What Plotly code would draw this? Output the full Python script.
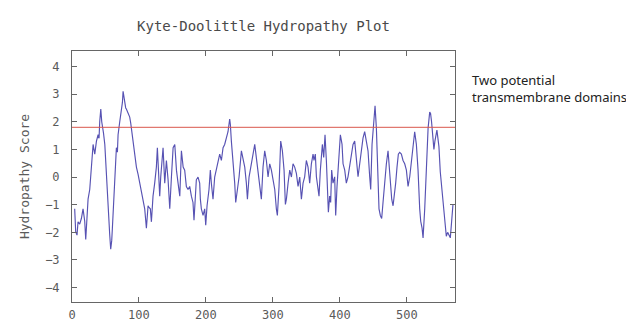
import plotly.graph_objects as go

# Residue positions and Kyte-Doolittle scores
residues = [4, 5.5, 7.5, 9, 11.5, 14, 16.5, 19, 20.5, 22.5, 24, 26.5, 29, 31.5, 34, 36.5, 39, 40.4, 41.4, 43,
            44.4, 45.4, 47, 49, 51.3, 53.8, 56.3, 57.8, 59.3, 60.3, 62.3, 63.8, 66.3, 67.8, 68.8, 71.3, 73.8, 75.3, 76.3, 77.8,
            78.7, 80.2, 81.2, 83.7, 86.2, 87.7, 88.7, 91.2, 93.7, 96.2, 98.7, 101.1, 103.6, 106.1, 108.6, 111.1, 112.6, 113.6, 115, 117,
            118.6, 120, 121, 123.5, 126, 127.5, 129.5, 131, 132.5, 134.5, 136, 138.5, 141, 143.5, 146, 148.5, 151, 153.5, 156, 158.4,
            161, 163.4, 166, 168.3, 170.8, 173.3, 175.8, 178.3, 180.7, 182.2, 184.2, 185.7, 188.2, 190.7, 191.7, 193.2, 195.7, 198.2, 199.7, 201.7,
            204.6, 206.6, 208.1, 210.6, 213.1, 215.6, 218.1, 220.6, 223.1, 225.6, 228, 230.5, 233, 235.5, 236.5, 238, 240.5, 243, 244.5, 246.5,
            249.5, 253, 255.5, 258, 260.4, 262, 264.4, 268, 270.4, 272.9, 275.4, 277.9, 280.4, 282.8, 285.3, 287.8, 290.3, 292.8, 295.3, 297.8,
            300.3, 302.8, 305.2, 306.7, 309.2, 311.7, 314.2, 316.7, 318.7, 320.2, 322.7, 325.2, 327.7, 330.1, 332.6, 335.1, 337.6, 340.1, 342.6, 345.1,
            347.5, 350, 352.5, 355, 357.5, 360, 361.4, 363.4, 365, 367.4, 368.9, 370.9, 372.4, 373.9, 375.9, 377.9, 379.9, 381.4, 382.9, 384.8,
            386.3, 387.8, 389.8, 392.3, 393.8, 395.8, 398.3, 400.8, 403.3, 404.8, 407.3, 409.7, 412.2, 414.7, 417.2, 419.7, 422.2, 423.7, 425.7, 427.2,
            429.7, 432.2, 434.6, 437.1, 439.6, 442.1, 444.6, 446.1, 448.1, 450.6, 452.6, 454.6, 456.5, 458.5, 460.5, 462.5, 464.5, 467, 469.5, 472,
            473.5, 475.5, 477.5, 479.5, 481.5, 483.4, 485.4, 487.4, 489.4, 491.9, 494.4, 496.9, 499.4, 501.9, 504.4, 506.9, 509.3, 511.8, 514.3, 516.8,
            519.3, 520.8, 522.8, 524.3, 526.8, 529.3, 531.8, 534.2, 535.5, 537, 538.5, 540.5, 542, 543.5, 545, 546.5, 548, 550, 552.5, 555,
            557, 559, 561, 563, 565, 567, 569]
scores = [-1.15, -1.97, -2.1, -1.62, -1.7, -1.5, -1.15, -1.6, -2.26, -1.5, -0.8, -0.45, 0.6, 1.18, 0.83, 1.3, 1.53, 1.4, 2.0, 2.46,
          2.0, 1.76, 1.6, 1.18, 0.01, -1.15, -2.08, -2.61, -2.3, -1.85, -1.0, 0.0, 1.06, 0.9, 1.53, 2.0, 2.35, 2.7, 3.1, 2.8,
          2.69, 2.5, 2.46, 2.3, 2.17, 1.95, 1.76, 1.3, 0.83, 0.36, 0.1, -0.22, -0.6, -0.92, -1.15, -1.85, -1.3, -1.04, -1.1, -1.15,
          -1.62, -1.0, -0.69, -0.22, 0.36, 1.06, 0.13, -0.69, 0.0, 0.83, 1.06, -0.22, 0.6, -0.1, -1.15, 0.0, 1.06, 1.18, 0.25, -0.22,
          -0.69, 0.95, 0.36, 0.25, -0.34, -0.45, -0.34, -0.69, -0.92, -1.56, -0.45, -0.1, 0.0, -0.22, -0.8, -1.15, -1.39, -1.15, -1.74, -1.04,
          -0.45, 0.25, -0.22, -0.8, 0.0, 0.25, 0.6, 0.83, 0.6, 1.06, 1.18, 1.41, 1.64, 2.1, 1.9, 1.3, 0.6, -0.22, -0.92, -0.57,
          0.0, 0.95, 0.6, 0.36, -0.22, -0.8, 0.0, 0.6, 0.83, 1.18, 0.71, 0.25, -0.34, -0.8, 0.36, 0.95, 0.6, 0.0, 0.48, 0.25,
          -0.1, -0.45, -1.15, -1.39, -0.34, 1.3, 0.95, 0.25, -0.99, -0.8, -0.22, 0.25, 0.0, 0.48, 0.36, 0.13, -0.34, 0.0, -0.8, -0.22,
          0.01, 0.6, 0.36, -0.22, 0.48, 0.83, 0.6, 0.83, 0.01, -0.57, -0.69, 0.25, 0.71, 1.18, 0.71, 1.53, 0.6, -0.22, -1.27, -0.69,
          -0.92, 0.25, -0.22, 0.01, -1.39, -0.34, 0.6, 1.53, 1.18, 0.48, 0.25, -0.22, 0.01, 0.36, 0.83, 1.18, 1.3, 0.83, 0.25, 0.01,
          0.48, 1.06, 1.41, 1.64, 1.3, 0.95, 0.01, -0.45, 1.18, 2.0, 2.58, 1.76, 0.25, -1.15, -1.39, -1.5, -0.92, -0.1, 0.48, 0.95,
          0.48, -0.22, -0.8, -1.04, -0.69, -0.22, 0.36, 0.83, 0.89, 0.83, 0.6, 0.48, 0.25, -0.34, 0.01, 0.6, 1.18, 1.64, 1.18, 0.25,
          -1.15, -1.6, -1.85, -2.2, -1.15, 0.25, 1.76, 2.35, 2.3, 2.0, 1.5, 1.0, 1.3, 1.55, 1.7, 1.4, 1.1, 0.19, -0.51, -1.1,
          -1.79, -2.14, -2.0, -2.1, -2.2, -1.6, -0.98]

threshold = 1.8
x_ticks = [0, 100, 200, 300, 400, 500]
y_ticks = [-4, -3, -2, -1, 0, 1, 2, 3, 4]
title_text = "Kyte-Doolittle Hydropathy Plot"
y_title = "Hydropathy Score"
note_text = "Two potential<br>transmembrane domains"

mono = "DejaVu Sans Mono"
gray = "#5a5a5a"

fig = go.Figure()
fig.add_trace(go.Scatter(x=residues, y=scores, mode="lines",
                         line=dict(color="#5752b3", width=1.15), showlegend=False))
fig.add_hline(y=threshold, line=dict(color="#d9574c", width=1))

fig.update_layout(
    width=634, height=326,
    margin=dict(l=64, r=187, t=43, b=23),
    paper_bgcolor="white", plot_bgcolor="white",
    title=dict(text=title_text, x=(64 + 447) / 2 / 634, xanchor="center", y=1 - 18 / 326, yanchor="middle",
               font=dict(family=mono, size=14, color="#4a4a4a")),
    xaxis=dict(range=[0, 572], tickvals=x_ticks, ticks="inside", ticklen=5, tickcolor="#666",
               showline=True, linecolor="#666", linewidth=1, mirror="ticks", showgrid=False, zeroline=False,
               ticklabelstandoff=2,
               tickfont=dict(family=mono, size=12, color=gray)),
    yaxis=dict(range=[-4.52, 4.56], tickvals=y_ticks, ticks="inside", ticklen=5, tickcolor="#666",
               showline=True, linecolor="#666", linewidth=1, mirror="ticks", showgrid=False, zeroline=False,
               ticklabelstandoff=9,
               tickfont=dict(family=mono, size=12, color=gray),
               title=dict(text=y_title, font=dict(family=mono, size=13, color=gray), standoff=12)),
    annotations=[dict(text=note_text, xref="paper", yref="paper", x=(462 - 64) / (447 - 64), y=1 - (62 - 43) / 260,
                      xanchor="left", yanchor="top", align="left", showarrow=False,
                      font=dict(family="Noto Sans", size=13, color="#222222"))],
)

fig.write_html("out.html")
